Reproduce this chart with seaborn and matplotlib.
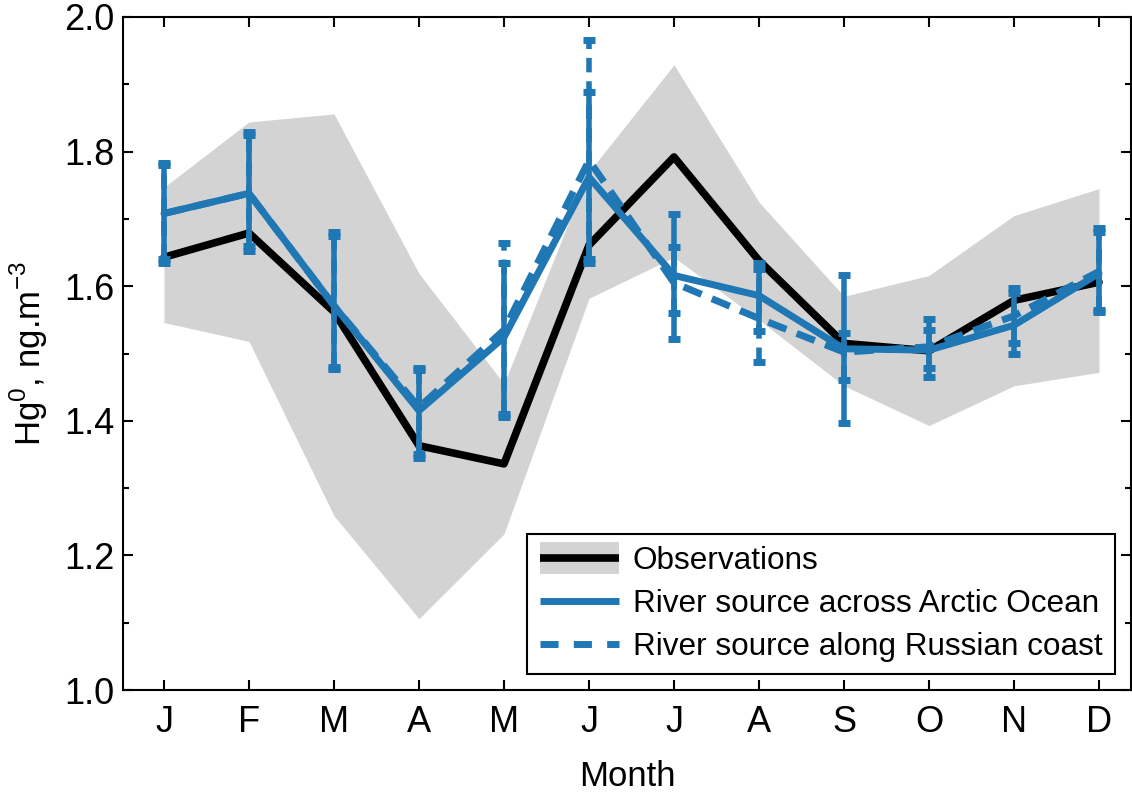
import matplotlib
matplotlib.use('Agg')
from matplotlib import pyplot as plt
from matplotlib.lines import Line2D
from matplotlib.ticker import MultipleLocator
import numpy as np
import pandas as pd
import seaborn as sns

# month labels and values
months = ['J', 'F', 'M', 'A', 'M', 'J', 'J', 'A', 'S', 'O', 'N', 'D']

obs_mean = [1.643, 1.679, 1.562, 1.363, 1.336, 1.661, 1.792, 1.638, 1.515, 1.504, 1.579, 1.606]
obs_low = [1.546, 1.518, 1.259, 1.106, 1.232, 1.582, 1.643, 1.550, 1.452, 1.393, 1.452, 1.472]
obs_high = [1.747, 1.844, 1.856, 1.619, 1.455, 1.770, 1.929, 1.725, 1.585, 1.616, 1.705, 1.745]

arctic = [1.708, 1.738, 1.571, 1.415, 1.524, 1.762, 1.616, 1.586, 1.507, 1.505, 1.542, 1.619]
arctic_lo = [1.635, 1.653, 1.477, 1.344, 1.405, 1.635, 1.522, 1.534, 1.397, 1.465, 1.500, 1.561]
arctic_hi = [1.783, 1.829, 1.680, 1.479, 1.634, 1.888, 1.708, 1.635, 1.616, 1.552, 1.598, 1.687]

russia = [1.708, 1.738, 1.571, 1.420, 1.535, 1.787, 1.605, 1.552, 1.502, 1.510, 1.556, 1.622]
russia_lo = [1.640, 1.660, 1.480, 1.350, 1.410, 1.640, 1.560, 1.487, 1.460, 1.478, 1.515, 1.565]
russia_hi = [1.780, 1.825, 1.675, 1.475, 1.664, 1.966, 1.658, 1.625, 1.531, 1.535, 1.590, 1.680]

blue = '#1f77b4'
gray = '#d3d3d3'

df = pd.DataFrame({'idx': np.arange(len(months)), 'obs': obs_mean,
                   'arctic': arctic, 'russia': russia})

sns.set_theme(style='ticks')
plt.rcParams['font.family'] = ['Liberation Sans', 'DejaVu Sans']
plt.rcParams['text.color'] = 'black'
plt.rcParams['axes.labelcolor'] = 'black'
plt.rcParams['xtick.color'] = 'black'
plt.rcParams['ytick.color'] = 'black'

fig = plt.figure(figsize=(11.32, 7.94), dpi=100)
ax = fig.add_axes([123 / 1132, 1 - 690 / 794, (1131 - 123) / 1132, (690 - 17) / 794])

x = df['idx'].values
ax.fill_between(x, obs_low, obs_high, color=gray, lw=0, zorder=1)
sns.lineplot(data=df, x='idx', y='obs', color='black', lw=5.5, ax=ax, zorder=2)

# dashed series first so the solid one sits on top
r = np.array(russia)
eb = ax.errorbar(x, r, yerr=[r - np.array(russia_lo), np.array(russia_hi) - r], fmt='none',
                 ecolor=blue, elinewidth=4, capsize=4.5, capthick=5, zorder=3)
eb[2][0].set_linestyle((0, (2.6, 1.6)))
sns.lineplot(data=df, x='idx', y='russia', color=blue, lw=5, linestyle='--', ax=ax, zorder=3)
ax.lines[-1].set_dashes((2.8, 1.6))

a = np.array(arctic)
ax.errorbar(x, a, yerr=[a - np.array(arctic_lo), np.array(arctic_hi) - a], fmt='none',
            ecolor=blue, elinewidth=4, capsize=4.5, capthick=5, zorder=4)
sns.lineplot(data=df, x='idx', y='arctic', color=blue, lw=5, ax=ax, zorder=4)

ax.set_xlim(-0.482, 11.376)
ax.set_ylim(1.0, 2.0)
ax.set_xticks(x)
ax.set_xticklabels(months)
ax.yaxis.set_major_locator(MultipleLocator(0.2))
ax.yaxis.set_minor_locator(MultipleLocator(0.1))
ax.yaxis.set_major_formatter(matplotlib.ticker.FormatStrFormatter('%.1f'))
ax.tick_params(which='both', direction='in', top=True, right=True, width=1.5, color='black')
ax.tick_params(which='major', length=7, labelsize=26)
ax.tick_params(which='minor', length=4)
ax.tick_params(axis='x', pad=11)
ax.tick_params(axis='y', pad=6)
for s in ax.spines.values():
    s.set_linewidth(1.5)
    s.set_color('black')

ax.set_xlabel('Month', fontsize=25, labelpad=14)
ax.set_ylabel('Hg$^\\mathregular{0}$, ng.m$^\\mathregular{-3}$', fontsize=25, labelpad=10)

handles = [
    (Line2D([], [], color=gray, lw=23, solid_capstyle='butt'),
     Line2D([], [], color='black', lw=5.5, solid_capstyle='butt')),
    Line2D([], [], color=blue, lw=5, solid_capstyle='butt'),
    Line2D([], [], color=blue, lw=5, dashes=(2.6, 2.2), dash_capstyle='butt'),
]
labels = ['Observations', 'River source across Arctic Ocean', 'River source along Russian coast']
leg = ax.legend(handles, labels, loc='lower right', fontsize=22.7, frameon=True,
                fancybox=False, framealpha=1, edgecolor='black', labelspacing=0.4,
                handlelength=2.5, handletextpad=0.45, borderpad=0.4, borderaxespad=0.5)
leg.get_frame().set_linewidth(1.5)

fig.savefig('out.png', dpi=100)
